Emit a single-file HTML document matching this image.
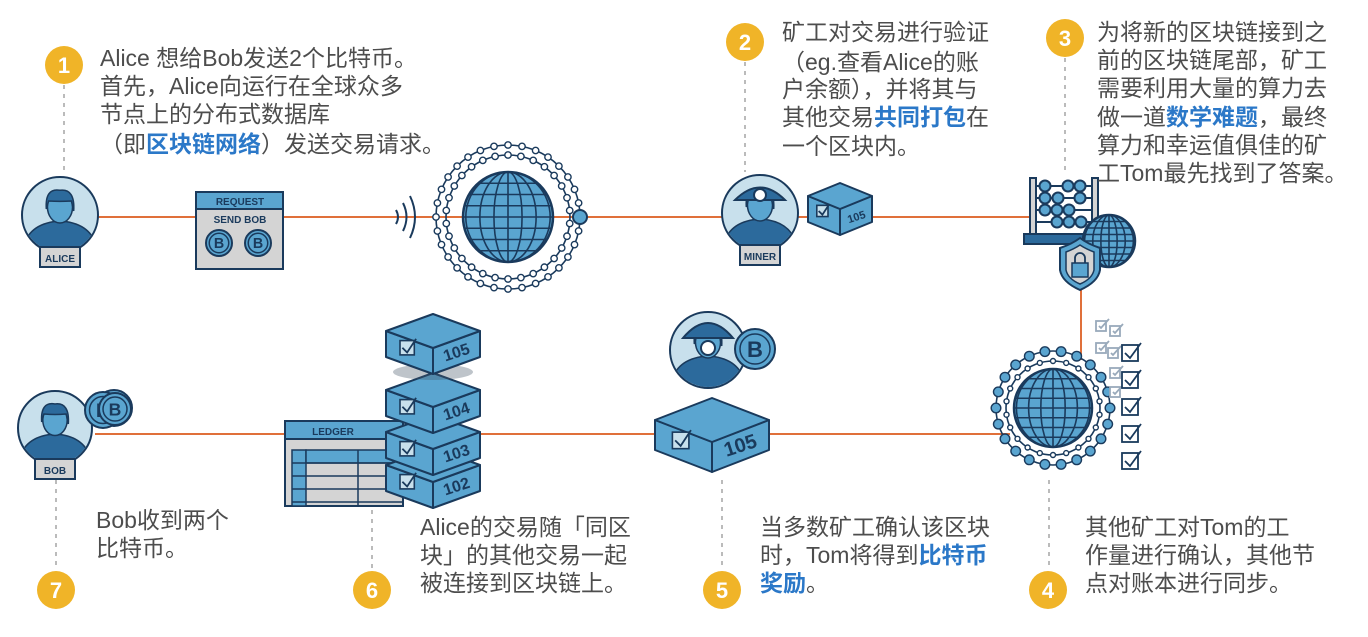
<!DOCTYPE html>
<html><head><meta charset="utf-8">
<style>
html,body{margin:0;padding:0;background:#fff;width:1368px;height:637px;overflow:hidden}
svg{display:block}
.t{font-family:"Liberation Sans","Noto Sans CJK SC",sans-serif;font-size:23px;fill:#4d4d4d}
.b{fill:#2b78c8;font-weight:bold}
.n{font-family:"Liberation Sans",sans-serif;font-size:22px;font-weight:bold;fill:#fff;text-anchor:middle}
.lab{font-family:"Liberation Sans",sans-serif;font-weight:bold;fill:#1a3a5c;text-anchor:middle}
</style></head><body>
<svg id="s" width="1368" height="637" viewBox="0 0 1368 637" xmlns="http://www.w3.org/2000/svg">
<g stroke="#e0703a" stroke-width="2">
<line x1="60" y1="217" x2="1030" y2="217"/>
<line x1="1081" y1="285" x2="1081" y2="360"/>
<line x1="95" y1="434" x2="1010" y2="434"/>
</g>
<g stroke="#bbb" stroke-width="2" stroke-dasharray="4,5">
<line x1="64" y1="85" x2="64" y2="170"/>
<line x1="745" y1="62" x2="745" y2="172"/>
<line x1="1065" y1="58" x2="1065" y2="175"/>
<line x1="1049" y1="480" x2="1049" y2="570"/>
<line x1="722" y1="480" x2="722" y2="570"/>
<line x1="372" y1="510" x2="372" y2="570"/>
<line x1="56" y1="462" x2="56" y2="570"/>
</g>
<g id="icons"></g>
<g fill="#f0b428">
<circle cx="64" cy="65" r="19"/><circle cx="745" cy="42" r="19"/><circle cx="1065" cy="38" r="19"/>
<circle cx="1048" cy="590" r="19"/><circle cx="722" cy="590" r="19"/><circle cx="372" cy="590" r="19"/><circle cx="56" cy="590" r="19"/>
</g>
<text class="n" x="64" y="73">1</text><text class="n" x="745" y="50">2</text><text class="n" x="1065" y="46">3</text>
<text class="n" x="1048" y="598">4</text><text class="n" x="722" y="598">5</text><text class="n" x="372" y="598">6</text><text class="n" x="56" y="598">7</text>

<text class="t" x="100" y="66">Alice 想给Bob发送2个比特币。</text>
<text class="t" x="100" y="94">首先，Alice向运行在全球众多</text>
<text class="t" x="100" y="122">节点上的分布式数据库</text>
<text class="t" x="100" y="152">（即<tspan class="b">区块链网络</tspan>）发送交易请求。</text>

<text class="t" x="782" y="40">矿工对交易进行验证</text>
<text class="t" x="782" y="70">（eg.查看Alice的账</text>
<text class="t" x="782" y="97">户余额），并将其与</text>
<text class="t" x="782" y="125">其他交易<tspan class="b">共同打包</tspan>在</text>
<text class="t" x="782" y="154">一个区块内。</text>

<text class="t" x="1097" y="40">为将新的区块链接到之</text>
<text class="t" x="1097" y="68">前的区块链尾部，矿工</text>
<text class="t" x="1097" y="96">需要利用大量的算力去</text>
<text class="t" x="1097" y="125">做一道<tspan class="b">数学难题</tspan>，最终</text>
<text class="t" x="1097" y="153">算力和幸运值俱佳的矿</text>
<text class="t" x="1097" y="181">工Tom最先找到了答案。</text>

<text class="t" x="1085" y="535">其他矿工对Tom的工</text>
<text class="t" x="1085" y="563">作量进行确认，其他节</text>
<text class="t" x="1085" y="591">点对账本进行同步。</text>

<text class="t" x="760" y="535">当多数矿工确认该区块</text>
<text class="t" x="760" y="563">时，Tom将得到<tspan class="b">比特币</tspan></text>
<text class="t" x="760" y="591"><tspan class="b">奖励</tspan>。</text>

<text class="t" x="420" y="535">Alice的交易随「同区</text>
<text class="t" x="420" y="563">块」的其他交易一起</text>
<text class="t" x="420" y="591">被连接到区块链上。</text>

<text class="t" x="96" y="528">Bob收到两个</text>
<text class="t" x="96" y="556">比特币。</text>
</svg>
<script>
var N="#1a3a5c",B="#5aa5d0",L="#c8e0ec",D="#2c6a9c",G="#d4d4d4";
var o="";
function person(cx,cy,r,lab){
 o+=`<circle cx="${cx}" cy="${cy}" r="${r}" fill="${L}" stroke="${N}" stroke-width="2"/>`;
 o+=`<clipPath id="c${cx}"><circle cx="${cx}" cy="${cy}" r="${r-1}"/></clipPath><g clip-path="url(#c${cx})">`;
 o+=`<path d="M${cx-r} ${cy+r} Q${cx-r+4} ${cy+8} ${cx} ${cy+6} Q${cx+r-4} ${cy+8} ${cx+r} ${cy+r}Z" fill="${D}" stroke="${N}" stroke-width="1.5"/>`;
 o+=`<ellipse cx="${cx}" cy="${cy-8}" rx="${r*0.33}" ry="${r*0.42}" fill="${B}" stroke="${N}" stroke-width="1.5"/>`;
 o+=`<path d="M${cx-r*0.36} ${cy-6} Q${cx-r*0.4} ${cy-r*0.72} ${cx} ${cy-r*0.65} Q${cx+r*0.4} ${cy-r*0.7} ${cx+r*0.36} ${cy-4} L${cx+r*0.3} ${cy-14} Q${cx} ${cy-r*0.35} ${cx-r*0.3} ${cy-14}Z" fill="${D}" stroke="${N}" stroke-width="1.5"/></g>`;
 if(lab){o+=`<rect x="${cx-20}" y="${cy+r-6}" width="40" height="20" fill="${G}" stroke="${N}" stroke-width="2"/><text class="lab" x="${cx}" y="${cy+r+9}" font-size="10">${lab}</text>`;}
}
function coin(cx,cy,r){o+=`<circle cx="${cx}" cy="${cy}" r="${r}" fill="${B}" stroke="${N}" stroke-width="2"/><circle cx="${cx}" cy="${cy}" r="${r*0.75}" fill="none" stroke="${N}" stroke-width="1.5"/><text class="lab" x="${cx}" y="${cy+r*0.4}" font-size="${r*1.1}">B</text>`;}
function globe(cx,cy,r,id){
 o+=`<circle cx="${cx}" cy="${cy}" r="${r}" fill="${B}" stroke="${N}" stroke-width="2.5"/><clipPath id="g${id}"><circle cx="${cx}" cy="${cy}" r="${r}"/></clipPath><g clip-path="url(#g${id})" stroke="${N}" stroke-width="1.6" fill="none">`;
 for(var i=1;i<=3;i++){o+=`<ellipse cx="${cx}" cy="${cy}" rx="${r*i/3.2}" ry="${r}"/>`;}
 o+=`<line x1="${cx}" y1="${cy-r}" x2="${cx}" y2="${cy+r}"/>`;
 for(var j=-3;j<=3;j++){o+=`<line x1="${cx-r}" y1="${cy+j*r/4}" x2="${cx+r}" y2="${cy+j*r/4}"/>`;}
 o+=`</g>`;
}
function ring(cx,cy,r,n,dr,fill,off){
 o+=`<circle cx="${cx}" cy="${cy}" r="${r}" fill="none" stroke="${N}" stroke-width="1.6"/>`;
 for(var i=0;i<n;i++){var a=(i+off)/n*2*Math.PI;o+=`<circle cx="${(cx+r*Math.cos(a)).toFixed(1)}" cy="${(cy+r*Math.sin(a)).toFixed(1)}" r="${dr}" fill="${fill}" stroke="${N}" stroke-width="1.4"/>`;}
}
function box(cx,ty,hw,hh,d,lab,fs){
 var l=[cx-hw,ty+hh],t=[cx,ty],r=[cx+hw,ty+hh],b=[cx,ty+2*hh];
 o+=`<g stroke="${N}" stroke-width="2" stroke-linejoin="round">`;
 o+=`<polygon points="${l} ${b} ${b[0]},${b[1]+d} ${l[0]},${l[1]+d}" fill="${B}"/>`;
 o+=`<polygon points="${b} ${r} ${r[0]},${r[1]+d} ${b[0]},${b[1]+d}" fill="${B}"/>`;
 o+=`<polygon points="${t} ${r} ${b} ${l}" fill="${B}"/></g>`;
 var s=Math.min(d*0.55,hw*0.35),qx=cx-hw*0.55,qy=ty+hh+d*0.35+hh*0.45;
 o+=`<rect x="${qx-s/2}" y="${qy-s/2}" width="${s}" height="${s}" fill="${L}" stroke="${N}" stroke-width="1.6"/><path d="M${qx-s/3} ${qy} L${qx} ${qy+s/3} L${qx+s/1.6} ${qy-s/1.6}" fill="none" stroke="${N}" stroke-width="1.8"/>`;
 if(lab)o+=`<text x="${cx+hw*0.5}" y="${ty+hh*1.5+d*0.7}" font-family="Liberation Sans Narrow,Liberation Sans,sans-serif" font-weight="bold" font-size="${fs}" fill="${N}" text-anchor="middle" transform="rotate(-18 ${cx+hw*0.5} ${ty+hh*1.5+d*0.5})">${lab}</text>`;
}
person(60,215,38,"ALICE");
o+=`<rect x="196" y="192" width="87" height="77" fill="${G}" stroke="${N}" stroke-width="2"/><rect x="196" y="192" width="87" height="17" fill="${B}" stroke="${N}" stroke-width="2"/><text class="lab" x="240" y="205" font-size="10">REQUEST</text><text class="lab" x="240" y="223" font-size="10">SEND BOB</text>`;
coin(219,243,13);coin(258,243,13);
o+=`<g fill="none" stroke="${N}" stroke-width="2"><path d="M396 210 Q400 217 396 224"/><path d="M403 203 Q410 217 403 231"/><path d="M410 196 Q420 217 410 238"/></g>`;
ring(508,217,72,32,3.2,"#fff",0);ring(508,217,62,30,3.2,"#fff",0.5);globe(508,217,45,1);
o+=`<circle cx="580" cy="217" r="7" fill="${B}" stroke="${N}" stroke-width="2"/>`;
person(760,213,38,"MINER");
o+=`<path d="M735 200 Q760 175 785 200 Z" fill="${D}" stroke="${N}" stroke-width="2"/><circle cx="760" cy="195" r="6" fill="#fff" stroke="${N}" stroke-width="2"/>`;
box(840,183,32,13,26,"105",11);
o+=`<g stroke="${N}" stroke-width="2"><rect x="1030" y="178" width="6" height="60" fill="${G}"/><rect x="1092" y="178" width="6" height="60" fill="${G}"/><rect x="1024" y="234" width="80" height="10" fill="${D}"/>`;
[[186,[1045,1068,1080]],[198,[1045,1058,1080]],[210,[1045,1057,1069]],[222,[1057,1069,1081]]].forEach(function(r){o+=`<line x1="1036" y1="${r[0]}" x2="1092" y2="${r[0]}"/>`;r[1].forEach(function(x){o+=`<circle cx="${x}" cy="${r[0]}" r="5.5" fill="${B}"/>`;});});
o+=`</g>`;
globe(1109,241,26,2);
o+=`<path d="M1060 248 Q1072 244 1080 238 Q1088 244 1100 248 L1100 270 Q1098 282 1080 290 Q1062 282 1060 270Z" fill="${B}" stroke="${N}" stroke-width="2"/><path d="M1066 252 Q1074 249 1080 245 Q1086 249 1094 252 L1094 270 Q1092 279 1080 284 Q1068 279 1066 270Z" fill="${G}" stroke="${N}" stroke-width="1.5"/><rect x="1072" y="263" width="16" height="14" fill="${B}" stroke="${N}" stroke-width="1.5"/><path d="M1075 263 v-5 a5 5 0 0 1 10 0 v5" fill="none" stroke="${N}" stroke-width="1.8"/>`;
ring(1053,408,57,22,4.8,B,0);ring(1053,408,47,22,2.5,"#fff",0.5);globe(1053,408,39,3);
function cb(x,y,s,c){o+=`<rect x="${x}" y="${y}" width="${s}" height="${s}" fill="#fff" stroke="${c}" stroke-width="1.8"/><path d="M${x+3} ${y+s/2} L${x+s/2} ${y+s-3} L${x+s+3} ${y-2}" fill="none" stroke="${c}" stroke-width="1.8"/>`;}
cb(1096,321,10,"#9ab");cb(1110,326,10,"#9ab");cb(1096,343,10,"#9ab");cb(1108,348,10,"#9ab");cb(1110,368,10,"#9ab");cb(1110,387,10,"#9ab");
for(var i=0;i<5;i++)cb(1122,345+i*27,16,N);
person(55,428,37,"BOB");
coin(114,408,18);coin(103,410,18);coin(115,409,16);
o+=`<rect x="285" y="421" width="118" height="85" fill="${G}" stroke="${N}" stroke-width="2"/><rect x="285" y="421" width="118" height="18" fill="${B}" stroke="${N}" stroke-width="2"/><text class="lab" x="333" y="435" font-size="10">LEDGER</text>`;
o+=`<g stroke="${N}" stroke-width="1.5"><rect x="292" y="450" width="14" height="56" fill="${B}"/><rect x="306" y="450" width="97" height="13" fill="${B}"/>`;
for(var k=0;k<4;k++)o+=`<line x1="292" y1="${463+k*13}" x2="403" y2="${463+k*13}"/>`;
o+=`<line x1="358" y1="450" x2="358" y2="506"/></g>`;
box(433,448,47,17,26,"102",16);box(433,415,47,17,26,"103",16);box(433,373,47,17,26,"104",16);
o+=`<ellipse cx="433" cy="372" rx="40" ry="8" fill="#456" opacity="0.35"/>`;
box(433,314,47,17,26,"105",16);
person(708,350,38,null);
o+=`<path d="M683 338 Q708 308 733 338 Z" fill="${D}" stroke="${N}" stroke-width="2"/><circle cx="708" cy="348" r="7" fill="#fff" stroke="${N}" stroke-width="2"/>`;
coin(755,349,20);
box(712,398,57,22,30,"105",20);
document.getElementById("icons").innerHTML=o;
</script>
</body></html>
